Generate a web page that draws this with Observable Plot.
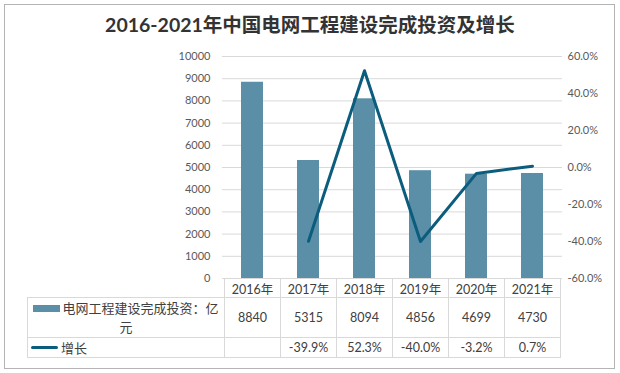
<!DOCTYPE html>
<html><head><meta charset="utf-8">
<script src="https://cdn.jsdelivr.net/npm/d3@7"></script>
<script src="https://cdn.jsdelivr.net/npm/@observablehq/plot@0.6"></script>
<style>
body{margin:0;background:#fff;}
#wrap{position:relative;width:620px;height:373px;font-family:Lato,"Noto Sans CJK SC",sans-serif;overflow:hidden;}
#frame{position:absolute;left:4px;top:4px;width:611px;height:365px;border:1px solid #b4b4b4;box-sizing:border-box;}
#title{position:absolute;top:12px;left:0;width:620px;text-align:center;font-size:19.5px;font-weight:bold;color:#333;line-height:26px;}
#chart{position:absolute;left:0;top:0;}
.cell{position:absolute;box-sizing:border-box;border:1px solid #d9d9d9;display:flex;align-items:center;justify-content:center;font-size:12.5px;color:#404040;}
</style>
</head><body>
<div id="wrap">
  <div id="frame"></div>
  <div id="chart"></div>
  <div id="title">2016-2021年中国电网工程建设完成投资及增长</div>
</div>
<script>
const years = ["2016年","2017年","2018年","2019年","2020年","2021年"];
const investment = [8840, 5315, 8094, 4856, 4699, 4730];
const growth = [null, -39.9, 52.3, -40.0, -3.2, 0.7];
const growthLabels = ["", "-39.9%", "52.3%", "-40.0%", "-3.2%", "0.7%"];
const leftTicks = [0,1000,2000,3000,4000,5000,6000,7000,8000,9000,10000];
const rightTicks = [-60,-40,-20,0,20,40,60];
const seriesBar = "电网工程建设完成投资：亿元";
const seriesLine = "增长";

const barColor = "#5b8fa7";
const lineColor = "#0c5d7d";
// map percentage (right axis) onto left-axis units
const toY = p => (p + 60) / 120 * 10000;
const fromY = v => v / 10000 * 120 - 60;

const barData = years.map((y, i) => ({year: y, value: investment[i]}));
const lineData = years.map((y, i) => ({year: y, g: growth[i]})).filter(d => d.g != null);

const chart = Plot.plot({
  width: 620, height: 373,
  marginTop: 56, marginBottom: 95, marginLeft: 222, marginRight: 58,
  style: {fontFamily: 'Lato,"Noto Sans CJK SC",sans-serif', fontSize: "11px", color: "#595959", background: "transparent"},
  x: {domain: years, padding: 0, axis: null},
  y: {domain: [0, 10000], axis: null},
  marks: [
    Plot.gridY(leftTicks, {stroke: "#d9d9d9", strokeOpacity: 1}),
    Plot.barY(barData, {x: "year", y: "value", fill: barColor, insetLeft: 17, insetRight: 17}),
    Plot.lineY(lineData, {x: "year", y: d => toY(d.g), stroke: lineColor, strokeWidth: 3}),
    Plot.axisY(leftTicks, {anchor: "left", tickSize: 0, tickPadding: 12, label: null, fill: "#595959",
      tickFormat: d => String(d)}),
    Plot.axisY(rightTicks.map(toY), {anchor: "right", tickSize: 0, tickPadding: 5, label: null, fill: "#595959",
      tickFormat: v => fromY(v).toFixed(1) + "%", textAnchor: "start"})
  ]
});
document.getElementById("chart").appendChild(chart);

// data table aligned with the x band scale
const xs = chart.scale("x");
const bw = xs.bandwidth;
const wrap = document.getElementById("wrap");
function cell(x, y, w, h, html, extra) {
  const d = document.createElement("div");
  d.className = "cell";
  d.style.left = x + "px"; d.style.top = y + "px";
  d.style.width = (w + 1) + "px"; d.style.height = (h + 1) + "px";
  if (extra) Object.assign(d.style, extra);
  d.innerHTML = html;
  wrap.appendChild(d);
}
const r0 = 278, r1 = 297, r2 = 337, r3 = 357;
const legX = 27, legW = xs.apply(years[0]) - legX;
years.forEach((y, i) => {
  const x0 = xs.apply(y);
  cell(x0, r0, bw, r1 - r0, y);
  cell(x0, r1, bw, r2 - r1, String(investment[i]));
  cell(x0, r2, bw, r3 - r2, growthLabels[i]);
});
cell(legX, r1, legW, r2 - r1,
  `<div style="text-align:center;line-height:19px;font-size:13px;color:#404040">` +
  `<span style="display:inline-block;width:27px;height:7px;background:${barColor};vertical-align:middle;margin-right:2px;position:relative;top:-1px"></span>` +
  `${seriesBar.slice(0, -1)}<br>${seriesBar.slice(-1)}</div>`, {padding: "0 2px"});
cell(legX, r2, legW, r3 - r2,
  `<span style="display:inline-block;width:27px;height:3px;border-radius:1.5px;background:${lineColor};margin-right:3px"></span>${seriesLine}`,
  {justifyContent: "flex-start", paddingLeft: "3px", fontSize: "13px"});
</script>
</body></html>
